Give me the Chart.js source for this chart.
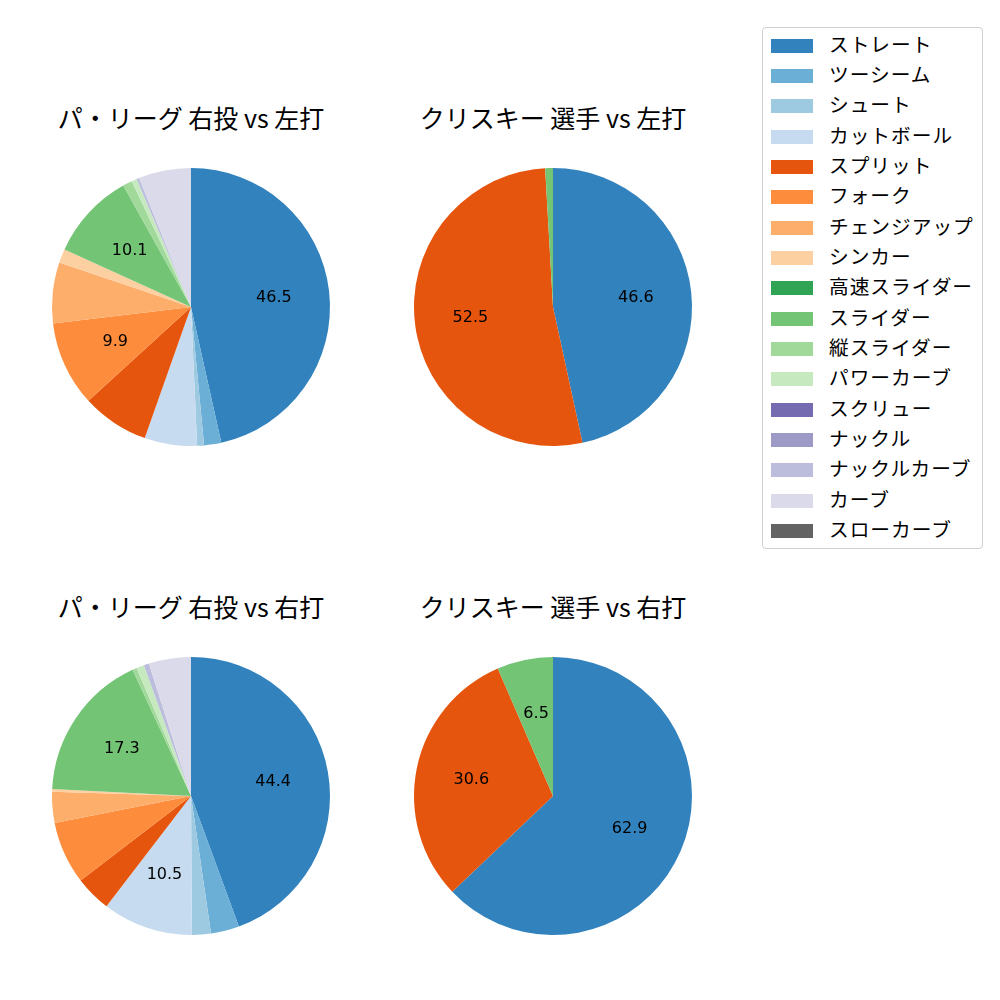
<!DOCTYPE html>
<html lang="ja">
<head>
  <meta charset="UTF-8">
  <script src="https://cdn.jsdelivr.net/npm/chart.js"></script>
  <title>球種割合</title>
  <style>
    body{ margin:0; background:#fff; font-family:"Noto Sans CJK JP", sans-serif; }
    #page{ position:relative; width:1000px; height:1000px; }
    .pie{ position:absolute; }
    .ttl{ position:absolute; width:400px; text-align:center; font-size:25px; line-height:30px; color:#000; }
    #legend{ position:absolute; left:762px; top:27px; width:219px; height:520px;
      border:1px solid #d0d0d0; border-radius:4px; }
    .row{ position:absolute; left:8px; height:20px; font-size:19.7px; line-height:20px; color:#000;
      white-space:nowrap; letter-spacing:1px; }
    .row i{ display:inline-block; width:42px; height:14px; margin-right:16px; vertical-align:-1px; }
  </style>
</head>
<body>
<div id="page"><div id="legend"></div></div>
<script>
  // 球種
  var categories = ['ストレート','ツーシーム','シュート','カットボール','スプリット','フォーク',
    'チェンジアップ','シンカー','高速スライダー','スライダー','縦スライダー','パワーカーブ',
    'スクリュー','ナックル','ナックルカーブ','カーブ','スローカーブ'];

  // 割合(%)
  var leagueVsLeft  = [46.5, 2.0, 0.8, 6.1, 7.8, 9.9, 7.1, 1.6, 0, 10.1, 1.1, 0.6, 0, 0, 0.3, 6.1, 0];
  var playerVsLeft  = [46.6, 0, 0, 0, 52.5, 0, 0, 0, 0, 0.9, 0, 0, 0, 0, 0, 0, 0];
  var leagueVsRight = [44.4, 3.3, 2.2, 10.5, 4.2, 7.3, 3.6, 0.3, 0, 17.3, 0.5, 0.9, 0, 0, 0.6, 4.9, 0];
  var playerVsRight = [62.9, 0, 0, 0, 30.6, 0, 0, 0, 0, 6.5, 0, 0, 0, 0, 0, 0, 0];

  var titles = ['パ・リーグ 右投 vs 左打','クリスキー 選手 vs 左打','パ・リーグ 右投 vs 右打','クリスキー 選手 vs 右打'];
  var labelMin = [9, 5, 9, 5];

  var colors = ['#3182bd','#6baed6','#9ecae1','#c6dbef','#e6550d','#fd8d3c','#fdae6b','#fdd0a2',
    '#31a354','#74c476','#a1d99b','#c7e9c0','#756bb1','#9e9ac8','#bcbddc','#dadaeb','#636363'];

  var series = [leagueVsLeft, playerVsLeft, leagueVsRight, playerVsRight];
  var centers = [[191,307],[553,307],[191,796],[553,796]];

  var pctLabels = {
    id: 'pctLabels',
    afterDatasetsDraw: function(chart){
      var ctx = chart.ctx;
      var min = chart.options.plugins.pctLabels.min;
      var vals = chart.data.datasets[0].data;
      ctx.save();
      ctx.font = '16px "DejaVu Sans"';
      ctx.fillStyle = '#000';
      ctx.textAlign = 'center';
      ctx.textBaseline = 'middle';
      chart.getDatasetMeta(0).data.forEach(function(arc, i){
        if(vals[i] < min) return;
        var a = (arc.startAngle + arc.endAngle) / 2;
        var r = arc.outerRadius * 0.6;
        ctx.fillText(vals[i].toFixed(1), arc.x + Math.cos(a) * r, arc.y + Math.sin(a) * r);
      });
      ctx.restore();
    }
  };

  var page = document.getElementById('page');
  series.forEach(function(vals, k){
    var c = centers[k];
    var cv = document.createElement('canvas');
    cv.className = 'pie';
    cv.width = 320; cv.height = 320;
    cv.style.left = (c[0] - 160) + 'px';
    cv.style.top = (c[1] - 160) + 'px';
    page.appendChild(cv);

    var t = document.createElement('div');
    t.className = 'ttl';
    t.textContent = titles[k];
    t.style.left = (c[0] - 200) + 'px';
    t.style.top = (c[1] - 205) + 'px';
    page.appendChild(t);

    new Chart(cv, {
      type: 'pie',
      data: {
        labels: categories,
        datasets: [{ data: vals, backgroundColor: colors, borderWidth: 0 }]
      },
      options: {
        responsive: false,
        animation: false,
        radius: 139,
        layout: { padding: 0 },
        plugins: { legend: { display: false }, tooltip: { enabled: false }, pctLabels: { min: labelMin[k] } }
      },
      plugins: [pctLabels]
    });
  });

  // 凡例
  var lg = document.getElementById('legend');
  categories.forEach(function(name, i){
    var row = document.createElement('div');
    row.className = 'row';
    row.style.top = (5.5 + i * 30.35) + 'px';
    row.innerHTML = '<i style="background:' + colors[i] + '"></i>' + name;
    lg.appendChild(row);
  });
</script>
</body>
</html>
